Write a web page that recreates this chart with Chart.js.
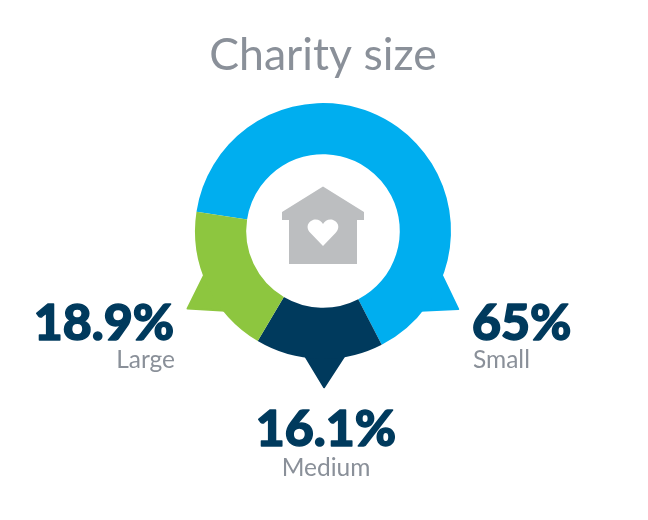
<!DOCTYPE html>
<html>
<head>
<meta charset="utf-8">
<title>Charity size</title>
<script src="https://cdn.jsdelivr.net/npm/chart.js@4/dist/chart.umd.min.js"></script>
<style>
  html, body { margin: 0; padding: 0; background: #fff; }
  #wrap { position: relative; width: 648px; height: 520px; }
</style>
</head>
<body>
<div id="wrap"><canvas id="chart" width="648" height="520"></canvas></div>
<script>
const categories = ['Small', 'Medium', 'Large'];
const shares = [65, 16.1, 18.9];
const sliceColors = ['#00aeef', '#003a5d', '#8dc63f'];

// 每块的尖角和文字位置（尖角角度从正上方顺时针）
const tails = [
  { from: 110, tip: 120, to: 129.3 },
  { from: 170, tip: 179.6, to: 188.2 },
  { from: 230.7, tip: 240.2, to: 250 }
];
const labelSpots = [
  { x: 472, y: 340, y2: 368, x2: 473, align: 'left' },
  { x: 326, y: 446, y2: 476, x2: 326, align: 'center' },
  { x: 174, y: 340, y2: 368, x2: 175, align: 'right' }
];

function polar(cx, cy, r, deg) {
  const a = (deg - 90) * Math.PI / 180;
  return [cx + r * Math.cos(a), cy + r * Math.sin(a)];
}

const tailPlugin = {
  id: 'tails',
  beforeDatasetsDraw(chart) {
    const ctx = chart.ctx;
    chart.getDatasetMeta(0).data.forEach((arc, i) => {
      const R = arc.outerRadius;
      const t = tails[i];
      ctx.save();
      ctx.fillStyle = ctx.strokeStyle = sliceColors[i];
      ctx.lineWidth = 2;
      ctx.lineJoin = 'round';
      ctx.beginPath();
      ctx.moveTo(...polar(arc.x, arc.y, R - 2, t.from));
      ctx.lineTo(...polar(arc.x, arc.y, R * 1.22, t.tip));
      ctx.lineTo(...polar(arc.x, arc.y, R - 2, t.to));
      ctx.closePath();
      ctx.fill();
      ctx.stroke();
      ctx.restore();
    });
  }
};

// 中间的房子图标
const housePlugin = {
  id: 'house',
  afterDatasetsDraw(chart) {
    const arc = chart.getDatasetMeta(0).data[0];
    const ctx = chart.ctx;
    ctx.save();
    ctx.translate(arc.x, arc.y);
    ctx.fillStyle = '#bcbec0';
    ctx.beginPath();
    ctx.moveTo(0, -44.5);
    ctx.lineTo(41, -19);
    ctx.lineTo(41, -11);
    ctx.lineTo(34, -11);
    ctx.lineTo(34, 33);
    ctx.lineTo(-34, 33);
    ctx.lineTo(-34, -11);
    ctx.lineTo(-41, -11);
    ctx.lineTo(-41, -19);
    ctx.closePath();
    ctx.fill();
    ctx.fillStyle = '#fff';
    ctx.beginPath();
    ctx.moveTo(0, 15);
    ctx.lineTo(-12.5, 2);
    ctx.bezierCurveTo(-19, -5, -13, -11.5, -7.5, -11.5);
    ctx.bezierCurveTo(-4, -11.5, -1.5, -9.5, 0, -7);
    ctx.bezierCurveTo(1.5, -9.5, 4, -11.5, 7.5, -11.5);
    ctx.bezierCurveTo(13, -11.5, 19, -5, 12.5, 2);
    ctx.closePath();
    ctx.fill();
    ctx.restore();
  }
};

const labelPlugin = {
  id: 'sliceLabels',
  afterDraw(chart) {
    const ctx = chart.ctx;
    categories.forEach((name, i) => {
      const s = labelSpots[i];
      ctx.save();
      ctx.textAlign = s.align;
      ctx.textBaseline = 'alphabetic';
      ctx.fillStyle = ctx.strokeStyle = '#003a5d';
      ctx.font = '900 50px Lato';
      ctx.lineWidth = 1.5;
      ctx.lineJoin = 'round';
      ctx.fillText(shares[i] + '%', s.x, s.y);
      ctx.strokeText(shares[i] + '%', s.x, s.y);
      ctx.fillStyle = '#8a9099';
      ctx.font = '24.5px Lato';
      ctx.fillText(name, s.x2, s.y2);
      ctx.restore();
    });
  }
};

new Chart(document.getElementById('chart'), {
  type: 'doughnut',
  data: {
    labels: categories,
    datasets: [{
      data: shares,
      backgroundColor: sliceColors,
      borderWidth: 0
    }]
  },
  options: {
    responsive: false,
    animation: false,
    rotation: 278.7,
    cutout: '60%',
    layout: { padding: { left: 195, right: 197, top: 0, bottom: 161 } },
    plugins: {
      legend: { display: false },
      tooltip: { enabled: false },
      title: {
        display: true,
        text: 'Charity size',
        color: '#8a9099',
        font: { family: 'Lato', size: 44.6, weight: 'normal', lineHeight: 1.2 },
        padding: { top: 29, bottom: 20.5 }
      }
    }
  },
  plugins: [tailPlugin, housePlugin, labelPlugin]
});
</script>
</body>
</html>
